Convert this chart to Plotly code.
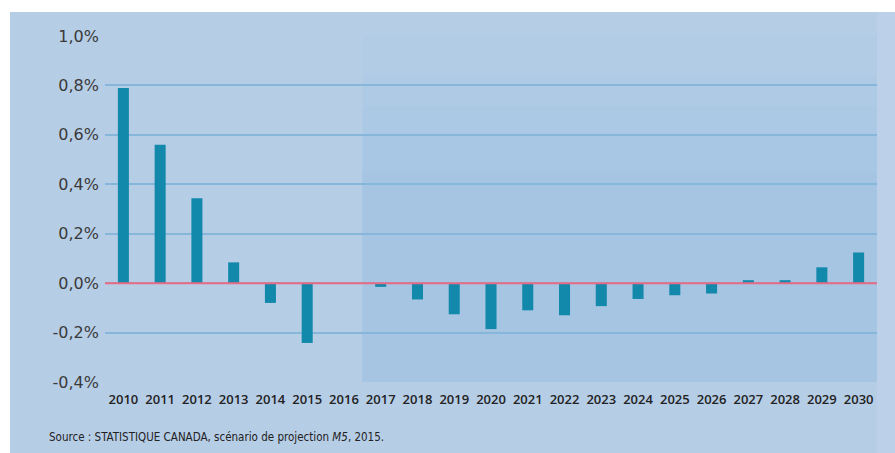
import plotly.graph_objects as go

years = [str(y) for y in range(2010, 2031)]
values = [0.79, 0.56, 0.344, 0.084, -0.08, -0.242, -0.003, -0.015, -0.066, -0.126,
          -0.186, -0.11, -0.13, -0.093, -0.064, -0.049, -0.042, 0.012, 0.012, 0.064, 0.124]
ytick_vals = [-0.4, -0.2, 0.0, 0.2, 0.4, 0.6, 0.8, 1.0]
ytick_text = ["-0,4%", "-0,2%", "0,0%", "0,2%", "0,4%", "0,6%", "0,8%", "1,0%"]
source_text = "Source : STATISTIQUE CANADA, scénario de projection <i>M5</i>, 2015."

W, H = 895, 453
L, R, T, B = 105, 18, 36, 71
pw, ph = W - L - R, H - T - B

def px_x(p):
    return (p - L) / pw

def px_y(p):
    return (H - B - p) / ph

fig = go.Figure()
fig.add_trace(go.Bar(
    x=years, y=values, marker_color="#1288ab", marker_line_width=0,
    width=0.3, hoverinfo="skip"))

shapes = [
    # blue card background
    dict(type="rect", xref="paper", yref="paper", x0=px_x(10), x1=px_x(W + 5),
         y0=px_y(H + 5), y1=px_y(12), fillcolor="#b6cde6", line_width=0, layer="below"),
    # lighter strip right of plot
    dict(type="rect", xref="paper", yref="paper", x0=1.0, x1=px_x(W + 5),
         y0=px_y(H + 5), y1=px_y(12), fillcolor="#bcd0e9", line_width=0, layer="below"),
]
# projection shading (approximated vertical gradient)
bands = [(-0.4, 0.45, "#a5c5e3"), (0.45, 0.6, "#a8c7e4"), (0.6, 0.72, "#abc8e4"),
         (0.72, 0.84, "#afcae5"), (0.84, 1.0, "#b3cce6")]
for y0, y1, c in bands:
    shapes.append(dict(type="rect", xref="x", yref="y", x0=6.5, x1=20.5, y0=y0, y1=y1,
                       fillcolor=c, line_width=0, layer="below"))
# zero line
shapes.append(dict(type="line", xref="paper", yref="y", x0=0, x1=1, y0=0, y1=0,
                   line=dict(color="#e96a83", width=2), layer="above"))

fig.update_layout(
    width=W, height=H,
    margin=dict(l=L, r=R, t=T, b=B),
    paper_bgcolor="white", plot_bgcolor="rgba(0,0,0,0)",
    showlegend=False, bargap=0.7,
    shapes=shapes,
    xaxis=dict(
        type="category", range=[-0.5, 20.5], showgrid=False, zeroline=False,
        showline=False, ticks="", ticklabelstandoff=8,
        tickfont=dict(family="Open Sans", size=13, color="#222222", weight=600),
    ),
    yaxis=dict(
        range=[-0.4, 1.0], tickvals=ytick_vals, ticktext=ytick_text,
        showgrid=True, gridcolor="#87b6db", gridwidth=2, zeroline=False,
        showline=False, ticks="", ticklabelstandoff=5,
        tickfont=dict(family="DejaVu Sans", size=16, color="#3a3a3a"),
    ),
    annotations=[dict(
        text=source_text, xref="paper", yref="paper",
        x=px_x(47), y=px_y(437), xanchor="left", yanchor="middle",
        showarrow=False,
        font=dict(family="DejaVu Sans Condensed, Liberation Sans Narrow, Liberation Sans",
                  size=11.5, color="#222222"),
    )],
)

fig.write_html("out.html")
